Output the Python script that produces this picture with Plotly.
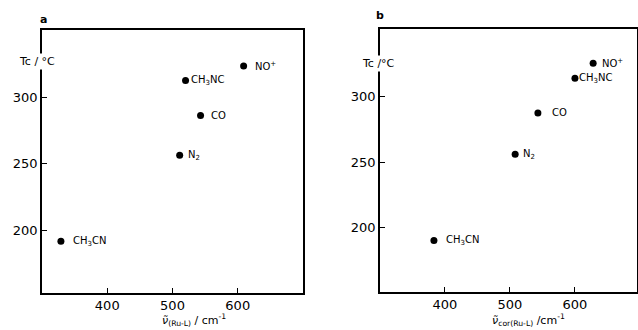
import plotly.graph_objects as go

labels = ["NO<sup>+</sup>", "CH<sub>3</sub>NC", "CO", "N<sub>2</sub>", "CH<sub>3</sub>CN"]
x_a = [609, 520, 543, 511, 329]
y_a = [324, 313, 286.5, 256.5, 191.5]
x_b = [628, 600, 543, 508, 383]
y_b = [325.5, 314, 287.5, 256, 190]
gap_a = [9, 3, 8, 6, 10]
gap_b = [7, 2, 12, 6, 10]
y_ticks = [200, 250, 300]
x_ticks = [400, 500, 600]

FONT = "DejaVu Sans"
fig = go.Figure()
fig.add_trace(go.Scatter(x=x_a, y=y_a, mode="markers", xaxis="x", yaxis="y",
                         marker=dict(color="black", size=7), showlegend=False))
fig.add_trace(go.Scatter(x=x_b, y=y_b, mode="markers", xaxis="x2", yaxis="y2",
                         marker=dict(color="black", size=7), showlegend=False))

ann = []
for lab, xv, yv, g in zip(labels, x_a, y_a, gap_a):
    ann.append(dict(x=xv, y=yv, xref="x", yref="y", text=lab, showarrow=False,
                    xanchor="left", yanchor="middle", xshift=g,
                    font=dict(family=FONT, size=10, color="black")))
for lab, xv, yv, g in zip(labels, x_b, y_b, gap_b):
    ann.append(dict(x=xv, y=yv, xref="x2", yref="y2", text=lab, showarrow=False,
                    xanchor="left", yanchor="middle", xshift=g,
                    font=dict(family=FONT, size=10, color="black")))

W, H = 638, 330
def px(xp): return xp / W
def py(yp): return 1 - yp / H

ann += [
    dict(x=px(37), y=py(62), xref="paper", yref="paper", text="Tc / °C", showarrow=False,
         font=dict(family=FONT, size=11, color="black"), bgcolor="white", xanchor="center", yanchor="middle"),
    dict(x=px(378), y=py(63), xref="paper", yref="paper", text="Tc /°C", showarrow=False,
         font=dict(family=FONT, size=11, color="black"), bgcolor="white", xanchor="center", yanchor="middle"),
    dict(x=px(43), y=py(20), xref="paper", yref="paper", text="<b>a</b>", showarrow=False,
         font=dict(family=FONT, size=11, color="black"), xanchor="center", yanchor="middle"),
    dict(x=px(380), y=py(16), xref="paper", yref="paper", text="<b>b</b>", showarrow=False,
         font=dict(family=FONT, size=11, color="black"), xanchor="center", yanchor="middle"),
    dict(x=px(194), y=py(330), xref="paper", yref="paper",
         text="<i>ν̃</i><sub>(Ru-L)</sub> / cm<sup>-1</sup>", showarrow=False,
         font=dict(family=FONT, size=11, color="black"), xanchor="center", yanchor="bottom"),
    dict(x=px(528), y=py(330), xref="paper", yref="paper",
         text="<i>ν̃</i><sub>cor(Ru-L)</sub> /cm<sup>-1</sup>", showarrow=False,
         font=dict(family=FONT, size=11, color="black"), xanchor="center", yanchor="bottom"),
]

axis_common = dict(showgrid=False, zeroline=False, showline=True, linecolor="black",
                   linewidth=1.5, mirror=True, ticks="inside", ticklen=5, tickwidth=1.2,
                   automargin=False,
                   tickcolor="black", tickfont=dict(family=FONT, size=13, color="black"))

fig.update_layout(
    width=W, height=H, margin=dict(l=0, r=0, t=0, b=0),
    paper_bgcolor="white", plot_bgcolor="white",
    xaxis=dict(domain=[px(42), px(303)], range=[300, 700], tickvals=x_ticks, anchor="y", **axis_common),
    yaxis=dict(domain=[py(292.5), py(30)], range=[152.8, 351.2], tickvals=y_ticks, anchor="x", **axis_common),
    xaxis2=dict(domain=[px(380), px(637)], range=[300, 695.5], tickvals=x_ticks, anchor="y2", **axis_common),
    yaxis2=dict(domain=[py(292), py(29)], range=[150.6, 351.7], tickvals=y_ticks, anchor="x2", **axis_common),
    annotations=ann,
)
fig.write_html("out.html", config={"displayModeBar": False},
               post_script="document.body.style.margin='0';document.body.style.overflow='hidden';")
